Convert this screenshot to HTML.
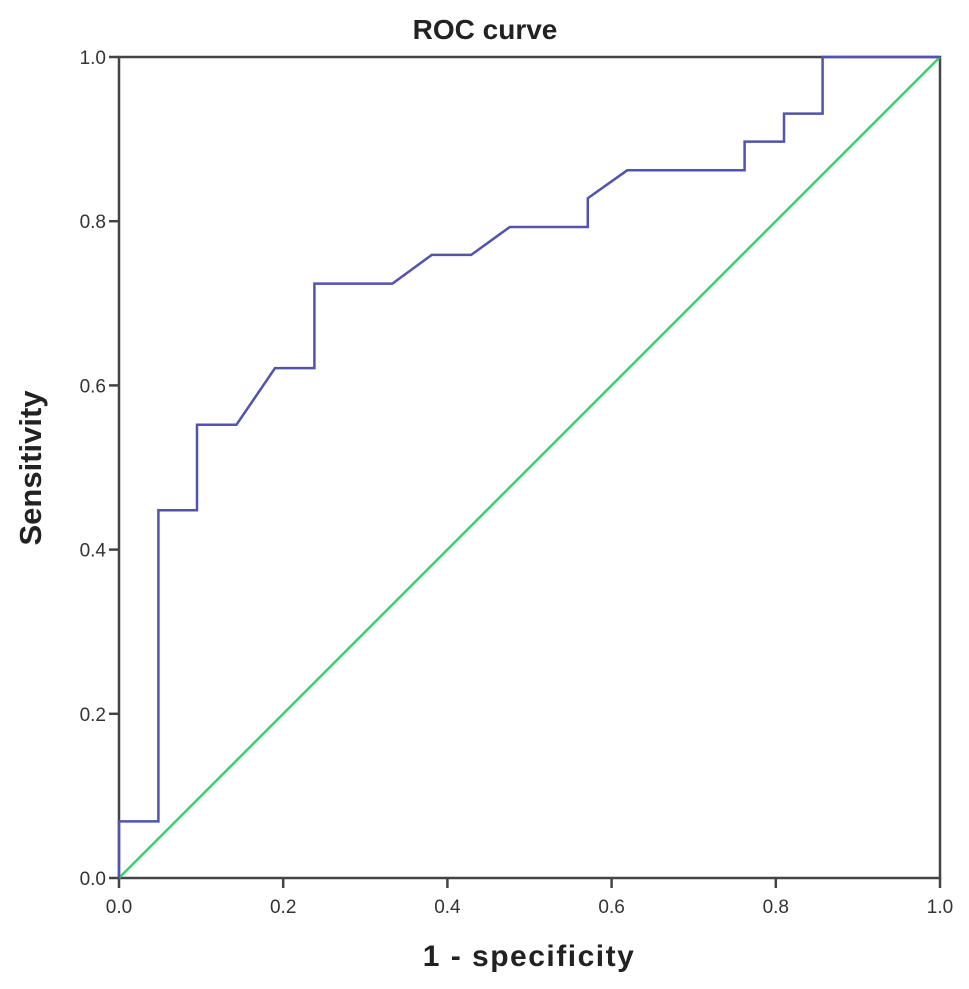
<!DOCTYPE html>
<html><head><meta charset="utf-8"><style>
body{margin:0;background:#fff;}
text{font-family:"Liberation Sans",sans-serif;}
</style></head><body>
<svg id="chart" width="969" height="984">
<text x="485" y="39" text-anchor="middle" font-size="28" font-weight="bold" fill="#222">ROC curve</text>
<text x="529" y="966" text-anchor="middle" font-size="30" font-weight="bold" fill="#222" letter-spacing="1.5">1 - specificity</text>
<text transform="translate(41,468) rotate(-90)" text-anchor="middle" font-size="31" font-weight="bold" fill="#222">Sensitivity</text>
<g id="axes"></g>
<g id="marks"></g>
</svg>
<script>
const xTicks=[0,0.2,0.4,0.6,0.8,1.0];
const yTicks=[0,0.2,0.4,0.6,0.8,1.0];
const fprValues=[0,0,0.048,0.048,0.095,0.095,0.143,0.190,0.238,0.238,0.333,0.381,0.429,0.476,0.571,0.571,0.619,0.762,0.762,0.810,0.810,0.857,0.857,1];
const tprValues=[0,0.069,0.069,0.448,0.448,0.552,0.552,0.621,0.621,0.724,0.724,0.759,0.759,0.793,0.793,0.828,0.862,0.862,0.897,0.897,0.931,0.931,1,1];
const refX=[0,1], refY=[0,1];
const X0=119,X1=940,Y0=878,Y1=57;
const sx=v=>X0+v*(X1-X0), sy=v=>Y0-v*(Y0-Y1);
const NS="http://www.w3.org/2000/svg";
const axes=document.getElementById('axes'), marks=document.getElementById('marks');
function mk(tag,attrs,parent){const e=document.createElementNS(NS,tag);for(const k in attrs)e.setAttribute(k,attrs[k]);parent.appendChild(e);return e;}
const frame=mk('rect',{x:X0,y:Y1,width:X1-X0,height:Y0-Y1,fill:'none',stroke:'#444','stroke-width':2.5},axes);


xTicks.forEach(t=>{
  const l=mk('line',{x1:sx(t),x2:sx(t),y1:Y0,y2:Y0+10,stroke:'#444','stroke-width':2.5},axes);
  
  
  const tx=mk('text',{x:sx(t),y:Y0+35,'text-anchor':'middle','font-size':19,fill:'#333'},axes);
  tx.textContent=t.toFixed(1);
  
  
});
yTicks.forEach(t=>{
  const l=mk('line',{x1:X0-10,x2:X0,y1:sy(t),y2:sy(t),stroke:'#444','stroke-width':2.5},axes);
  
  
  const tx=mk('text',{x:X0-13,y:sy(t)+7,'text-anchor':'end','font-size':19,fill:'#333'},axes);
  tx.textContent=t.toFixed(1);
  
  
});
const ref=mk('polyline',{points:refX.map((v,i)=>sx(v)+','+sy(refY[i])).join(' '),fill:'none',stroke:'#3ccf70','stroke-width':2.5},marks);


const roc=mk('polyline',{points:fprValues.map((v,i)=>sx(v)+','+sy(tprValues[i])).join(' '),fill:'none',stroke:'#5252b0','stroke-width':2.5},marks);


</script>
</body></html>
